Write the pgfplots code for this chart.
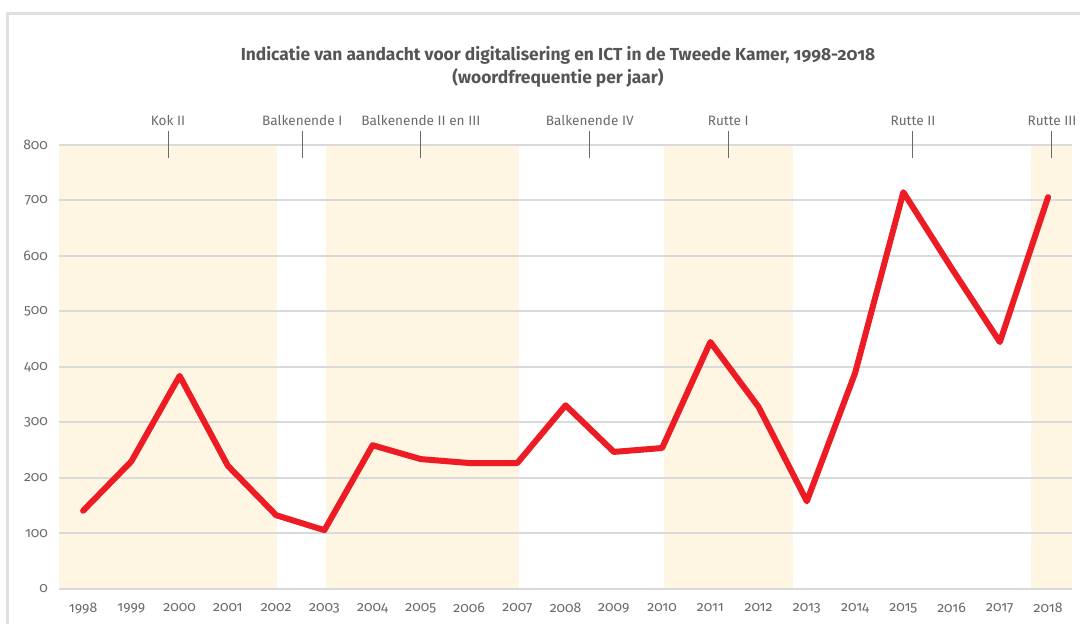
\documentclass[border=0pt]{standalone}
\usepackage{fontspec}
\setmainfont{Fira Sans}[Numbers=OldStyle]
\usepackage{pgfplots}
\pgfplotsset{compat=1.18}
\definecolor{cream}{HTML}{FEF5E3}
\definecolor{linered}{HTML}{ED1C24}
\definecolor{gridgray}{HTML}{DADADA}
\definecolor{labelgray}{HTML}{6A6A6A}
\definecolor{titlegray}{HTML}{555555}
\definecolor{framegray}{HTML}{E0E0E0}
\newcommand{\cab}[2]{%
  \draw[labelgray, line width=0.5pt] ([yshift=7pt]axis cs:#1,800) -- ([yshift=-6.5pt]axis cs:#1,800);
  \node[anchor=base, inner sep=0pt, text=labelgray, font=\fontsize{6.8}{7}\selectfont] at ([yshift=9.5pt]axis cs:#1,800) {#2};
}
\begin{document}
\begin{tikzpicture}
\begin{axis}[
  set layers,
  scale only axis,
  width=506.6pt, height=222pt,
  xmin=-0.5, xmax=20.5, ymin=0, ymax=800,
  xtick={0,1,...,20},
  xticklabels={1998,1999,2000,2001,2002,2003,2004,2005,2006,2007,2008,2009,2010,2011,2012,2013,2014,2015,2016,2017,2018},
  ytick={0,100,...,800},
  ymajorgrids,
  grid style={draw=gridgray, line width=1pt},
  axis line style={draw=none},
  major tick length=0pt,
  tick label style={font=\fontsize{7}{8}\selectfont, text=labelgray},
  xticklabel style={yshift=-3.5pt},
  yticklabel style={xshift=-2pt},
  clip=false,
  /pgf/number format/assume math mode=true,
  /pgf/number format/1000 sep={},
]
% government periods (shaded)
\addplot[on layer=axis background, fill=cream, draw=none] coordinates {(-0.5,800) (4.02,800)} \closedcycle;
\addplot[on layer=axis background, fill=cream, draw=none] coordinates {(5.04,800) (9.04,800)} \closedcycle;
\addplot[on layer=axis background, fill=cream, draw=none] coordinates {(12.04,800) (14.71,800)} \closedcycle;
\addplot[on layer=axis background, fill=cream, draw=none] coordinates {(19.65,800) (20.5,800)} \closedcycle;
% data (x = year - 1998)
\addplot[linered, line width=3pt, line join=round, line cap=round] coordinates {
(0,141) (1,230) (2,384) (3,222) (4,133) (5,106) (6,259)
(7,234) (8,227) (9,227) (10,331) (11,247) (12,254) (13,445)
(14,328) (15,158) (16,389) (17,715) (18,578) (19,445) (20,706)};
% cabinet labels
\cab{1.76}{Kok II}
\cab{4.54}{Balkenende I}
\cab{7.0}{Balkenende II en III}
\cab{10.5}{Balkenende IV}
\cab{13.37}{Rutte I}
\cab{17.2}{Rutte II}
\cab{20.08}{Rutte III}
\end{axis}
\node[anchor=base, text=titlegray, font=\fontsize{8.7}{9}\selectfont\bfseries] at (249.5pt,264pt) {Indicatie van aandacht voor digitalisering en ICT in de Tweede Kamer, 1998-2018};
\node[anchor=base, text=titlegray, font=\fontsize{8.7}{9}\selectfont\bfseries] at (249.5pt,252.5pt) {(woordfrequentie per jaar)};
\draw[framegray, line width=1.5pt] (-25.5pt,-30pt) -- (-25.5pt,287.5pt) -- (530pt,287.5pt);
\pgfresetboundingbox
\useasboundingbox (-29.5pt,-17.5pt) rectangle (510.5pt,294.5pt);
\end{tikzpicture}
\end{document}
